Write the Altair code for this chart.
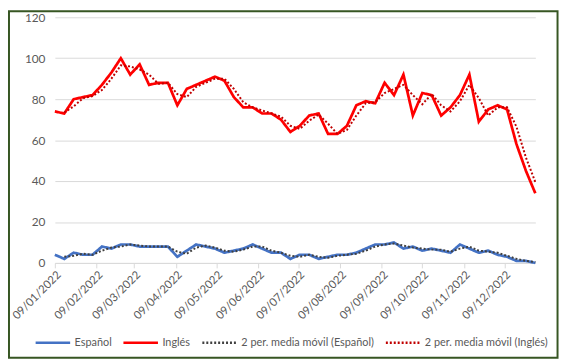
import altair as alt
import pandas as pd

# weekly dates (Sundays) from 9 Jan 2022 to 1 Jan 2023
fechas = [d.strftime("%Y-%m-%dT00:00:00") for d in pd.date_range("2022-01-09", periods=52, freq="7D")]

espanol = [4, 2, 5, 4, 4, 8, 7, 9, 9, 8, 8, 8, 8, 3, 6, 9, 8, 7, 5, 6, 7, 9, 7, 5, 5, 2,
           4, 4, 2, 3, 4, 4, 5, 7, 9, 9, 10, 7, 8, 6, 7, 6, 5, 9, 7, 5, 6, 4, 3, 1, 1, 0]
ingles = [74, 73, 80, 81, 82, 87, 93, 100, 92, 97, 87, 88, 88, 77, 85, 87, 89, 91, 89, 81,
          76, 76, 73, 73, 70, 64, 67, 72, 73, 63, 63, 67, 77, 79, 78, 88, 82, 92, 72, 83,
          82, 72, 76, 82, 92, 69, 75, 77, 75, 58, 45, 34]

series = ["Español", "Inglés", "2 per. media móvil (Español)", "2 per. media móvil (Inglés)"]
colores = ["#4472C4", "#FF0000", "#404040", "#C00000"]
trazos = [[1, 0], [1, 0], [2, 2], [2, 2]]

tick_fechas = [alt.DateTime(year=2022, month=m, date=9) for m in range(1, 13)]

df = pd.DataFrame({"fecha": fechas, "es": espanol, "en": ingles})

FONT = "Lato"

base = (
    alt.Chart(df)
    .transform_window(
        ma_es="mean(es)", ma_en="mean(en)", n="count(es)",
        frame=[-1, 0], sort=[alt.SortField("fecha")]
    )
    .transform_fold(["es", "en", "ma_es", "ma_en"], as_=["k", "v"])
    .transform_calculate(
        serie="datum.k == 'es' ? 'Español' : datum.k == 'en' ? 'Inglés' : "
              "datum.k == 'ma_es' ? '2 per. media móvil (Español)' : '2 per. media móvil (Inglés)'"
    )
    .transform_filter("datum.k == 'es' || datum.k == 'en' || datum.n == 2")
)

x_enc = alt.X(
    "fecha:T",
    scale=alt.Scale(domain=[alt.DateTime(year=2022, month=1, date=9),
                            alt.DateTime(year=2023, month=1, date=1)], nice=False),
    axis=alt.Axis(
        title=None, values=tick_fechas, format="%d/%m/%Y", labelAngle=-45,
        labelAlign="right", labelBaseline="top", labelPadding=1,
        grid=False, domainColor="#d9d9d9", tickColor="#d9d9d9", tickSize=5,
        labelColor="#595959", labelFontSize=11.5, labelFont=FONT, labelOverlap=False,
        labelBound=False, labelFlush=False
    ),
)
y_enc = alt.Y(
    "v:Q",
    scale=alt.Scale(domain=[0, 120], nice=False),
    axis=alt.Axis(
        title=None, values=[0, 20, 40, 60, 80, 100, 120], grid=True, gridColor="#d9d9d9",
        domain=False, ticks=False, labelColor="#595959", labelFontSize=12,
        labelFont=FONT, labelPadding=10
    ),
)
leg = dict(
    title=None, orient="none", direction="horizontal", legendX=-21, legendY=311,
    symbolType="stroke", symbolSize=1225, symbolStrokeWidth=2.5,
    labelFontSize=11, labelColor="#595959", labelFont=FONT,
    columnPadding=6, labelOffset=3
)
color_enc = alt.Color(
    "serie:N", scale=alt.Scale(domain=series, range=colores), legend=alt.Legend(**leg)
)
dash_enc = alt.StrokeDash(
    "serie:N", scale=alt.Scale(domain=series, range=trazos), legend=alt.Legend(**leg)
)

solid = base.transform_filter("datum.k == 'es' || datum.k == 'en'").mark_line(
    strokeWidth=2.75, strokeJoin="miter"
).encode(x=x_enc, y=y_enc, color=color_enc, strokeDash=dash_enc, detail="serie:N")

dotted = base.transform_filter("datum.k == 'ma_es' || datum.k == 'ma_en'").mark_line(
    strokeWidth=2
).encode(x=x_enc, y=y_enc, color=color_enc, strokeDash=dash_enc, detail="serie:N")

frame = alt.Chart(pd.DataFrame({"a": [0]})).mark_rect(
    fill="transparent", stroke="#375623", strokeWidth=2
).encode(x=alt.value(-46.5), x2=alt.value(509.5), y=alt.value(-6), y2=alt.value(345))

chart = (
    alt.layer(solid, dotted, frame)
    .properties(
        width=487, height=249,
        autosize=alt.AutoSizeParams(type="none"),
        padding={"left": 47.5, "top": 7, "right": 25, "bottom": 98},
        background="white",
    )
    .configure_view(stroke=None)
)

chart.save("out.html", embed_options={"renderer": "svg", "actions": False})
